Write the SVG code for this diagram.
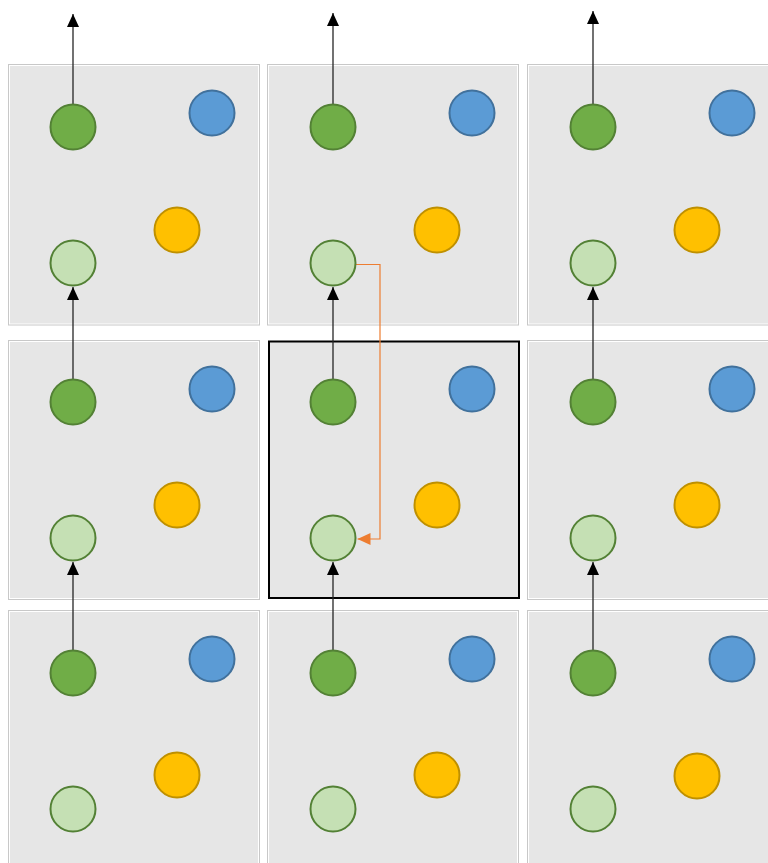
<svg xmlns="http://www.w3.org/2000/svg" width="768" height="863" viewBox="0 0 768 863">
<style>
.tile-out{fill:#ffffff;stroke:#c8c8c8;stroke-width:1}
.tile-in{fill:#e6e6e6}
.dg{fill:#70ad47;stroke:#538135;stroke-width:2}
.lg{fill:#c5e0b4;stroke:#538135;stroke-width:2}
.bl{fill:#5b9bd5;stroke:#41719c;stroke-width:2}
.ye{fill:#ffc000;stroke:#bf9000;stroke-width:2}
.blk{fill:none;stroke:#262626;stroke-width:1.3;marker-end:url(#ah)}
.org{fill:none;stroke:#ed7d31;stroke-width:1.2;marker-end:url(#ao)}
</style>
<defs>
<marker id="ah" viewBox="0 0 13 12" refX="13" refY="6" markerWidth="13" markerHeight="12" markerUnits="userSpaceOnUse" orient="auto"><path d="M0,0 L13,6 L0,12 Z" fill="#000"/></marker>
<marker id="ao" viewBox="0 0 13 12" refX="13" refY="6" markerWidth="13" markerHeight="12" markerUnits="userSpaceOnUse" orient="auto"><path d="M0,0 L13,6 L0,12 Z" fill="#ed7d31"/></marker>
</defs>
<rect width="768" height="863" fill="#ffffff"/>
<g id="tiles">
<g id="tile-r1c1"><rect class="tile-out" x="8.5" y="64.5" width="251" height="260.5"/><rect class="tile-in" x="10" y="66" width="248" height="257.5"/></g>
<g id="tile-r1c2"><rect class="tile-out" x="267.5" y="64.5" width="251" height="260.5"/><rect class="tile-in" x="269" y="66" width="248" height="257.5"/></g>
<g id="tile-r1c3"><rect class="tile-out" x="527.5" y="64.5" width="251" height="260.5"/><rect class="tile-in" x="529" y="66" width="248" height="257.5"/></g>
<g id="tile-r2c1"><rect class="tile-out" x="8.5" y="340.5" width="251" height="259"/><rect class="tile-in" x="10" y="342" width="248" height="256"/></g>
<g id="tile-r2c2"><rect x="269" y="341.5" width="250" height="256.5" fill="#e6e6e6" stroke="#000" stroke-width="2"/></g>
<g id="tile-r2c3"><rect class="tile-out" x="527.5" y="340.5" width="251" height="259"/><rect class="tile-in" x="529" y="342" width="248" height="256"/></g>
<g id="tile-r3c1"><rect class="tile-out" x="8.5" y="610.5" width="251" height="262"/><rect class="tile-in" x="10" y="612" width="248" height="259"/></g>
<g id="tile-r3c2"><rect class="tile-out" x="267.5" y="610.5" width="251" height="262"/><rect class="tile-in" x="269" y="612" width="248" height="259"/></g>
<g id="tile-r3c3"><rect class="tile-out" x="527.5" y="610.5" width="251" height="262"/><rect class="tile-in" x="529" y="612" width="248" height="259"/></g>
</g>
<g id="connectors">
<line class="blk" x1="73" y1="104" x2="73" y2="14"/>
<line class="blk" x1="333" y1="104" x2="333" y2="13"/>
<line class="blk" x1="593" y1="104" x2="593" y2="11"/>
<line class="blk" x1="73" y1="380" x2="73" y2="287"/>
<line class="blk" x1="333" y1="380" x2="333" y2="287"/>
<line class="blk" x1="593" y1="380" x2="593" y2="287"/>
<line class="blk" x1="73" y1="650" x2="73" y2="562"/>
<line class="blk" x1="333" y1="650" x2="333" y2="562"/>
<line class="blk" x1="593" y1="650" x2="593" y2="562"/>
<path class="org" d="M356,264.5 H380 V539 H357.5"/>
</g>
<g id="r1c1-dark"><circle class="dg" cx="73" cy="127" r="22.5"/></g>
<g id="r1c1-blue"><circle class="bl" cx="212" cy="113" r="22.5"/></g>
<g id="r1c1-yellow"><circle class="ye" cx="177" cy="230" r="22.5"/></g>
<g id="r1c1-light"><circle class="lg" cx="73" cy="263" r="22.5"/></g>
<g id="r1c2-dark"><circle class="dg" cx="333" cy="127" r="22.5"/></g>
<g id="r1c2-blue"><circle class="bl" cx="472" cy="113" r="22.5"/></g>
<g id="r1c2-yellow"><circle class="ye" cx="437" cy="230" r="22.5"/></g>
<g id="r1c2-light"><circle class="lg" cx="333" cy="263" r="22.5"/></g>
<g id="r1c3-dark"><circle class="dg" cx="593" cy="127" r="22.5"/></g>
<g id="r1c3-blue"><circle class="bl" cx="732" cy="113" r="22.5"/></g>
<g id="r1c3-yellow"><circle class="ye" cx="697" cy="230" r="22.5"/></g>
<g id="r1c3-light"><circle class="lg" cx="593" cy="263" r="22.5"/></g>
<g id="r2c1-dark"><circle class="dg" cx="73" cy="402" r="22.5"/></g>
<g id="r2c1-blue"><circle class="bl" cx="212" cy="389" r="22.5"/></g>
<g id="r2c1-yellow"><circle class="ye" cx="177" cy="505" r="22.5"/></g>
<g id="r2c1-light"><circle class="lg" cx="73" cy="538" r="22.5"/></g>
<g id="r2c2-dark"><circle class="dg" cx="333" cy="402" r="22.5"/></g>
<g id="r2c2-blue"><circle class="bl" cx="472" cy="389" r="22.5"/></g>
<g id="r2c2-yellow"><circle class="ye" cx="437" cy="505" r="22.5"/></g>
<g id="r2c2-light"><circle class="lg" cx="333" cy="538" r="22.5"/></g>
<g id="r2c3-dark"><circle class="dg" cx="593" cy="402" r="22.5"/></g>
<g id="r2c3-blue"><circle class="bl" cx="732" cy="389" r="22.5"/></g>
<g id="r2c3-yellow"><circle class="ye" cx="697" cy="505" r="22.5"/></g>
<g id="r2c3-light"><circle class="lg" cx="593" cy="538" r="22.5"/></g>
<g id="r3c1-dark"><circle class="dg" cx="73" cy="673" r="22.5"/></g>
<g id="r3c1-blue"><circle class="bl" cx="212" cy="659" r="22.5"/></g>
<g id="r3c1-yellow"><circle class="ye" cx="177" cy="775" r="22.5"/></g>
<g id="r3c1-light"><circle class="lg" cx="73" cy="809" r="22.5"/></g>
<g id="r3c2-dark"><circle class="dg" cx="333" cy="673" r="22.5"/></g>
<g id="r3c2-blue"><circle class="bl" cx="472" cy="659" r="22.5"/></g>
<g id="r3c2-yellow"><circle class="ye" cx="437" cy="775" r="22.5"/></g>
<g id="r3c2-light"><circle class="lg" cx="333" cy="809" r="22.5"/></g>
<g id="r3c3-dark"><circle class="dg" cx="593" cy="673" r="22.5"/></g>
<g id="r3c3-blue"><circle class="bl" cx="732" cy="659" r="22.5"/></g>
<g id="r3c3-yellow"><circle class="ye" cx="697" cy="776" r="22.5"/></g>
<g id="r3c3-light"><circle class="lg" cx="593" cy="809" r="22.5"/></g>
</svg>
